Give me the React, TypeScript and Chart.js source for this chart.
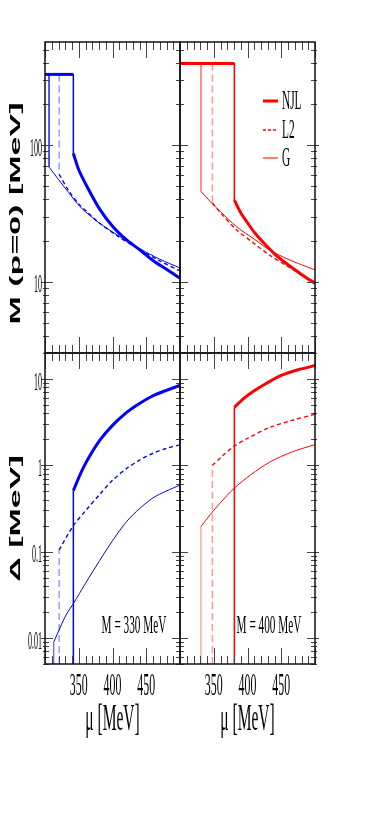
import React, { useEffect, useRef } from "react";
import { Chart, registerables } from "chart.js";

Chart.register(...registerables);

// ---------------- data ----------------
const muMin = 300;
const muMax = 500;
const xTickLabels = [350, 400, 450];
const massAxis = [3, 570];
const gapAxis = [0.005, 20];
const massTickLabels = [10, 100];
const gapTickLabels = [0.01, 0.1, 1, 10];
const legendNames = ["NJL", "L2", "G"];
const noteLeft = "M = 330 MeV";
const noteRight = "M = 400 MeV";
const xTitle = "\u03bc [MeV]";
const massTitle = "M (p=0) [MeV]";
const gapTitle = "\u0394 [MeV]";

// M = 330 MeV (blue) : mass at p=0
const vacMassA = 330;
const njlMuA = [342, 350, 362, 381, 400, 421, 441, 460, 480, 500];
const njlMA = [87, 66, 50, 34, 25.5, 20.2, 17, 14.3, 12.3, 10.6];
const l2MuA = [321, 335, 350, 362, 380, 410, 440, 470, 500];
const l2MA = [61, 46.5, 37, 32.5, 27, 21.2, 17.2, 14.2, 12.0];
const gMuA = [306, 320, 335, 352, 380, 410, 440, 470, 500];
const gMA = [69, 56, 45, 35.4, 27, 21.5, 17.5, 14.6, 12.6];

// M = 330 MeV (blue) : gap
const njlGapMuA = [342, 352, 362, 381, 400, 421, 440, 460, 480, 500];
const njlGapA = [0.51, 0.78, 1.12, 1.94, 2.9, 4.1, 5.2, 6.4, 7.4, 8.4];
const l2GapMuA = [321, 342, 362, 381, 400, 421, 440, 460, 480, 500];
const l2GapA = [0.105, 0.2, 0.31, 0.46, 0.67, 0.92, 1.15, 1.38, 1.57, 1.73];
const gGapMuA = [313, 322, 332, 342, 360, 381, 400, 421, 440, 460, 480, 500];
const gGapA = [0.009, 0.013, 0.019, 0.025, 0.043, 0.079, 0.134, 0.224, 0.315, 0.42, 0.505, 0.59];

// M = 400 MeV (red) : mass at p=0
const vacMassB = 396;
const njlMuB = [380.5, 390, 400, 410, 425, 440, 460, 480, 500];
const njlMB = [39.6, 32, 27, 23, 19, 16, 13.3, 11.3, 9.7];
const l2MuB = [348, 360, 384, 410, 433, 460, 480, 500];
const l2MB = [37.7, 32, 23.9, 19, 15.6, 12.9, 11.2, 9.9];
const gMuB = [331, 345, 360, 384, 410, 433, 460, 480, 500];
const gMB = [46, 38.5, 32.5, 25.2, 20.5, 17, 14.6, 13.3, 12.2];

// M = 400 MeV (red) : gap
const njlGapMuB = [380.5, 395, 410, 430, 450, 475, 500];
const njlGapB = [4.7, 6.0, 7.3, 9.1, 11, 12.8, 14.3];
const l2GapMuB = [348, 365, 380, 400, 433, 465, 500];
const l2GapB = [1.0, 1.33, 1.66, 2.05, 2.75, 3.3, 3.9];
const gGapMuB = [331, 345, 360, 380, 405, 433, 465, 500];
const gGapB = [0.195, 0.27, 0.37, 0.54, 0.78, 1.09, 1.42, 1.74];

// ---------------- layout / style ----------------
const W = 388;
const H = 830;
const colX = [45, 180, 315];
const rowY = [42, 353, 664];

const BLUE = "#0000ff";
const RED = "#ff0000";
const palette = {
  blue: { main: BLUE, l2Jump: "#9a9aff", gJump: "#3a3aff" },
  red: { main: RED, l2Jump: "#ff9a9a", gJump: "#ff8080" },
};

const serif = '"Liberation Serif", "Times New Roman", serif';
const sans = '"Liberation Sans", Arial, sans-serif';

type Pt = { x: number; y: number };
const pts = (xs: number[], ys: number[]): Pt[] => xs.map((x, i) => ({ x, y: ys[i] }));

function ds(data: Pt[], color: string, width: number, dash: number[] = [], smooth = true) {
  return {
    data,
    borderColor: color,
    backgroundColor: color,
    borderWidth: width,
    borderDash: dash,
    borderCapStyle: "butt",
    borderJoinStyle: "round",
    pointRadius: 0,
    pointHoverRadius: 0,
    fill: false,
    clip: 0,
    tension: smooth ? 0.3 : 0,
    cubicInterpolationMode: "default",
  };
}

function massDatasets(col: any, vac: number, nm: number[], nv: number[], lm: number[], lv: number[], gm: number[], gv: number[]) {
  return [
    ds(pts(nm, nv), col.main, 3),
    ds(pts(lm, lv), col.main, 1.4, [4, 3]),
    ds(pts(gm, gv), col.main, 1),
    ds(pts([muMin, nm[0]], [vac, vac]), col.main, 3, [], false),
    ds(pts([nm[0], nm[0]], [vac, nv[0]]), col.main, 1.5, [], false),
    ds(pts([lm[0], lm[0]], [vac, lv[0]]), col.l2Jump, 1.5, [7, 4], false),
    ds(pts([gm[0], gm[0]], [vac, gv[0]]), col.gJump, 1, [], false),
  ];
}

function gapDatasets(col: any, nm: number[], nv: number[], lm: number[], lv: number[], gm: number[], gv: number[]) {
  const lo = gapAxis[0];
  return [
    ds(pts(nm, nv), col.main, 3),
    ds(pts(lm, lv), col.main, 1.4, [4, 3]),
    ds(pts(gm, gv), col.main, 1),
    ds(pts([nm[0], nm[0]], [lo, nv[0]]), col.main, 1.5, [], false),
    ds(pts([lm[0], lm[0]], [lo, lv[0]]), col.l2Jump, 1.5, [7, 4], false),
    ds(pts([gm[0], gm[0]], [lo, gv[0]]), col.gJump, 1, [], false),
  ];
}

type Panel = {
  area: { left: number; top: number; right: number; bottom: number };
  yRange: number[];
  datasets: any[];
  yLabels: number[] | null;
  xLabels: boolean;
  yTitle: string | null;
  legend: boolean;
  note: string | null;
  color: string;
};

const panels: Panel[] = [
  {
    area: { left: colX[0], top: rowY[0], right: colX[1], bottom: rowY[1] },
    yRange: massAxis,
    datasets: massDatasets(palette.blue, vacMassA, njlMuA, njlMA, l2MuA, l2MA, gMuA, gMA),
    yLabels: massTickLabels,
    xLabels: false,
    yTitle: massTitle,
    legend: false,
    note: null,
    color: BLUE,
  },
  {
    area: { left: colX[1], top: rowY[0], right: colX[2], bottom: rowY[1] },
    yRange: massAxis,
    datasets: massDatasets(palette.red, vacMassB, njlMuB, njlMB, l2MuB, l2MB, gMuB, gMB),
    yLabels: null,
    xLabels: false,
    yTitle: null,
    legend: true,
    note: null,
    color: RED,
  },
  {
    area: { left: colX[0], top: rowY[1], right: colX[1], bottom: rowY[2] },
    yRange: gapAxis,
    datasets: gapDatasets(palette.blue, njlGapMuA, njlGapA, l2GapMuA, l2GapA, gGapMuA, gGapA),
    yLabels: gapTickLabels,
    xLabels: true,
    yTitle: gapTitle,
    legend: false,
    note: noteLeft,
    color: BLUE,
  },
  {
    area: { left: colX[1], top: rowY[1], right: colX[2], bottom: rowY[2] },
    yRange: gapAxis,
    datasets: gapDatasets(palette.red, njlGapMuB, njlGapB, l2GapMuB, l2GapB, gGapMuB, gGapB),
    yLabels: null,
    xLabels: true,
    yTitle: null,
    legend: false,
    note: noteRight,
    color: RED,
  },
];

function squeezedText(
  ctx: CanvasRenderingContext2D,
  text: string,
  x: number,
  y: number,
  font: string,
  sx: number,
  align: CanvasTextAlign,
  baseline: CanvasTextBaseline
) {
  ctx.save();
  ctx.translate(x, y);
  ctx.scale(sx, 1);
  ctx.font = font;
  ctx.textAlign = align;
  ctx.textBaseline = baseline;
  ctx.fillStyle = "#000";
  ctx.fillText(text, 0, 0);
  ctx.restore();
}

function rotatedTitle(ctx: CanvasRenderingContext2D, text: string, x: number, y: number) {
  ctx.save();
  ctx.translate(x, y);
  ctx.rotate(-Math.PI / 2);
  ctx.scale(1, 0.44);
  ctx.font = `bold 34px ${sans}`;
  ctx.textAlign = "center";
  ctx.textBaseline = "alphabetic";
  ctx.fillStyle = "#000";
  ctx.fillText(text, 0, 0);
  ctx.restore();
}

function makePlugin(p: Panel) {
  return {
    id: "panelFrame",
    afterDatasetsDraw(chart: any) {
      const ctx: CanvasRenderingContext2D = chart.ctx;
      const { left, right, top, bottom } = chart.chartArea;
      const xs = chart.scales.x;
      const ys = chart.scales.y;
      ctx.save();
      // inner ticks
      ctx.strokeStyle = "#444";
      ctx.lineWidth = 1;
      ctx.setLineDash([]);
      ctx.beginPath();
      for (let v = muMin; v <= muMax; v += 10) {
        const px = Math.round(xs.getPixelForValue(v)) + 0.5;
        const len = v % 50 === 0 ? 16 : 8;
        ctx.moveTo(px, bottom);
        ctx.lineTo(px, bottom - len);
        ctx.moveTo(px, top);
        ctx.lineTo(px, top + len);
      }
      const lo = ys.min;
      const hi = ys.max;
      for (let d = Math.floor(Math.log10(lo)); d <= Math.ceil(Math.log10(hi)); d++) {
        for (let k = 1; k <= 9; k++) {
          const v = k * Math.pow(10, d);
          if (v < lo * 0.999 || v > hi * 1.001) continue;
          const py = Math.round(ys.getPixelForValue(v)) + 0.5;
          const inner = k === 1 ? 8 : 4;
          const outer = k === 1 ? 4 : 2;
          ctx.moveTo(left - outer, py);
          ctx.lineTo(left + inner, py);
          ctx.moveTo(right + outer, py);
          ctx.lineTo(right - inner, py);
        }
      }
      ctx.stroke();
      // frame
      ctx.strokeStyle = "#111";
      ctx.lineWidth = 1.5;
      ctx.strokeRect(left, top, right - left, bottom - top);

      // y tick labels
      if (p.yLabels) {
        for (const v of p.yLabels) {
          squeezedText(ctx, String(v), left - 3, ys.getPixelForValue(v) + 4, `25px ${serif}`, 0.32, "right", "middle");
        }
      }
      // x tick labels + title
      if (p.xLabels) {
        for (const v of xTickLabels) {
          squeezedText(ctx, String(v), xs.getPixelForValue(v), 695, `32px ${serif}`, 0.37, "center", "alphabetic");
        }
        squeezedText(ctx, xTitle, (left + right) / 2, 730, `37px ${serif}`, 0.42, "center", "alphabetic");
      }
      if (p.yTitle) {
        rotatedTitle(ctx, p.yTitle, 20, (top + bottom) / 2 + (p.yRange === massAxis ? 16 : 10));
      }
      if (p.note) {
        squeezedText(ctx, p.note, right - 46, bottom - 31, `25px ${serif}`, 0.45, "center", "alphabetic");
      }
      if (p.legend) {
        const ly = [top + 59, top + 88, top + 116];
        const widths = [3, 1.4, 1];
        const dashes = [[], [3, 2], []];
        legendNames.forEach((name, i) => {
          ctx.save();
          ctx.strokeStyle = p.color;
          ctx.lineWidth = widths[i];
          ctx.setLineDash(dashes[i]);
          ctx.beginPath();
          ctx.moveTo(left + 83, ly[i]);
          ctx.lineTo(left + 98, ly[i]);
          ctx.stroke();
          ctx.restore();
          squeezedText(ctx, name, left + 102, ly[i] + 1, `27px ${serif}`, 0.42, "left", "middle");
        });
      }
      ctx.restore();
    },
  };
}

function buildConfig(p: Panel): any {
  return {
    type: "line",
    data: { datasets: p.datasets },
    options: {
      responsive: false,
      maintainAspectRatio: false,
      animation: false,
      events: [],
      layout: {
        padding: { left: p.area.left, top: p.area.top, right: W - p.area.right, bottom: H - p.area.bottom },
      },
      scales: {
        x: { type: "linear", min: muMin, max: muMax, display: false },
        y: { type: "logarithmic", min: p.yRange[0], max: p.yRange[1], display: false },
      },
      plugins: { legend: { display: false }, tooltip: { enabled: false }, title: { display: false } },
    },
    plugins: [makePlugin(p)],
  };
}

export default function App() {
  const canvases = useRef<(HTMLCanvasElement | null)[]>([]);
  useEffect(() => {
    const charts = panels.map((p, i) => new Chart(canvases.current[i] as HTMLCanvasElement, buildConfig(p)));
    return () => charts.forEach((c) => c.destroy());
  }, []);
  return (
    <div style={{ position: "absolute", left: 0, top: 0, width: W, height: H, background: "#fff" }}>
      {panels.map((_, i) => (
        <canvas
          key={i}
          ref={(el) => {
            canvases.current[i] = el;
          }}
          width={W}
          height={H}
          style={{ position: "absolute", left: 0, top: 0, width: W, height: H }}
        />
      ))}
    </div>
  );
}
